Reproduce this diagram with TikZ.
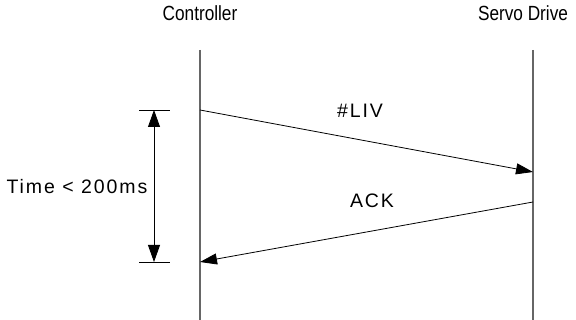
\documentclass[tikz,border=0pt]{standalone}
\usepackage{fontspec}
\setmainfont{Liberation Sans}
\newfontfamily\condfont[FakeStretch=0.84]{Liberation Sans}
\newfontfamily\wideFont[LetterSpace=10]{Liberation Sans}
\usetikzlibrary{arrows.meta}

\begin{document}
\begin{tikzpicture}[x=1pt,y=-1pt,
    head/.style={font=\condfont\fontsize{20.5}{22}\selectfont,inner sep=0pt},
    lbl/.style={font=\wideFont\fontsize{19.5}{22}\selectfont,inner sep=0pt},
    life/.style={draw=black!60,line width=1.2pt},
    msg/.style={draw=black,line width=0.8pt,-{Triangle[length=17pt,width=11pt]}},
    span/.style={draw=black,line width=0.8pt,{Triangle[length=17pt,width=12pt]}-{Triangle[length=17pt,width=12pt]}}]
                \useasboundingbox (0,0) rectangle (576,320);
                \node[head] (ctrl) at (200,13) {Controller};
                \node[head] (drive) at (523,13) {Servo Drive};
                \coordinate (ctop) at (200,50); \coordinate (cbot) at (200,320);
                \coordinate (dtop) at (533,50); \coordinate (dbot) at (533,320);
                \draw[life] (ctop) -- (cbot) (dtop) -- (dbot);
                \coordinate (liv1) at (200,110); \coordinate (liv2) at (533,172);
                \coordinate (ack1) at (533,202); \coordinate (ack2) at (200,262);
                \draw[msg] (liv1) -- (liv2);
                \draw[msg] (ack1) -- (ack2);
                \node[lbl] (liv) at (360,111) {\#LIV};
                \node[lbl] (ack) at (372,201) {ACK};
                \coordinate (t1) at (139,110); \coordinate (t2) at (170,110);
                \coordinate (b1) at (139,262); \coordinate (b2) at (170,262);
                \draw[line width=0.8pt] (t1) -- (t2) (b1) -- (b2);
                \draw[span] (154,110) -- (154,262);
                \node[lbl] (time) at (77,187) {Time < 200ms};
            \end{tikzpicture}
\end{document}
